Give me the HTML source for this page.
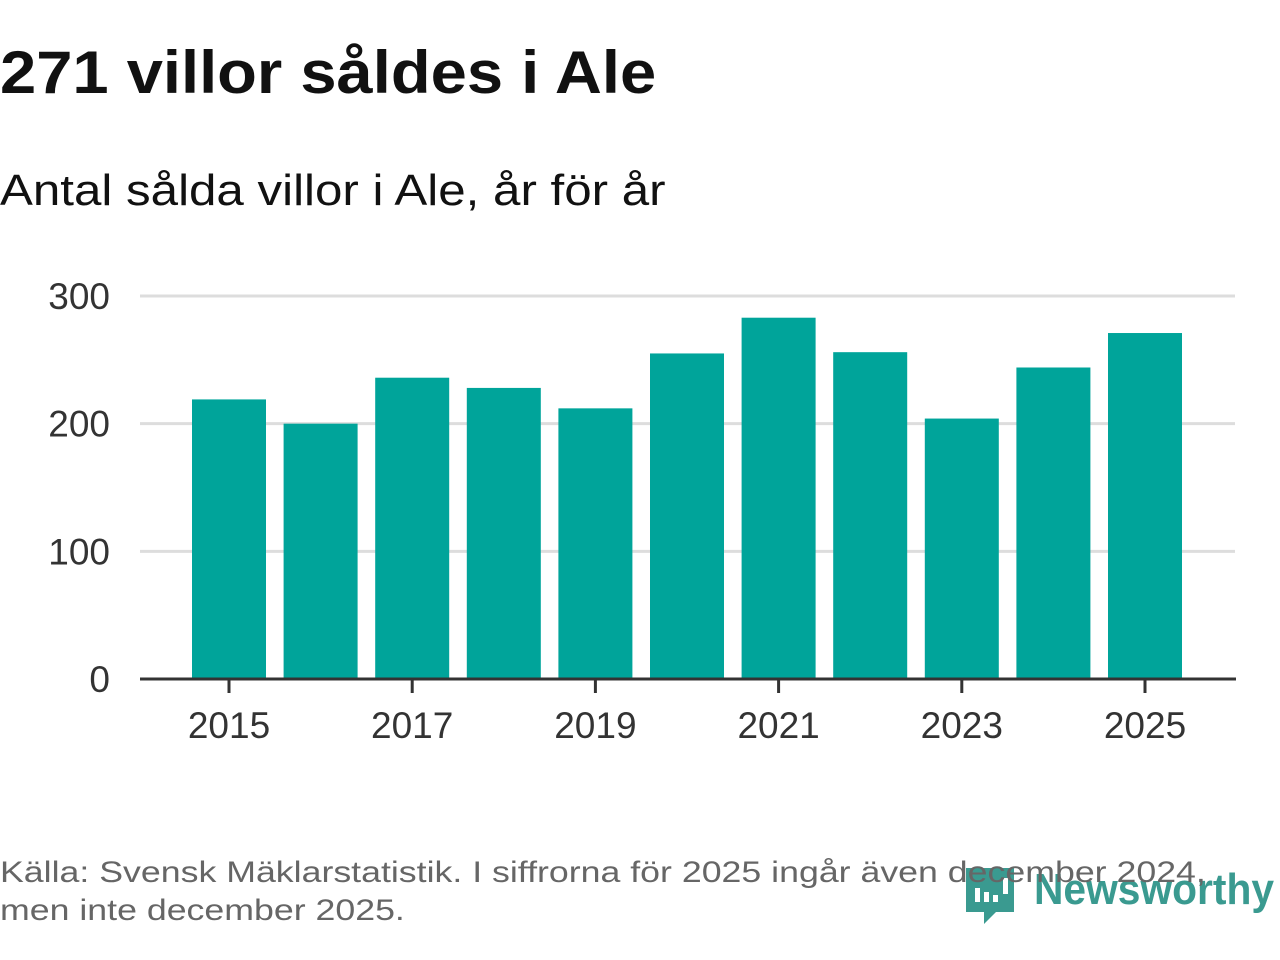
<!DOCTYPE html>
<html><head><meta charset="utf-8"><style>
body{margin:0;width:1280px;height:960px;background:#fff;font-family:"Liberation Sans","DejaVu Sans",sans-serif;overflow:hidden;position:relative}
#title{position:absolute;left:0;top:38px;font-size:60px;font-weight:bold;color:#111;margin:0;transform-origin:0 0;transform:scaleX(1.085);white-space:nowrap}
#sub{position:absolute;left:0;top:166px;font-size:44px;color:#111;transform-origin:0 0;transform:scaleX(1.12);white-space:nowrap}
#src{position:absolute;left:0;top:854px;font-size:30px;color:#666;line-height:38px;z-index:2;transform-origin:0 0;transform:scaleX(1.19);white-space:nowrap}
svg{position:absolute;left:0;top:0}
</style></head><body>
<h1 id="title">271 villor såldes i Ale</h1>
<div id="sub">Antal sålda villor i Ale, år för år</div>
<svg id="chart" width="1280" height="960"></svg>
<div id="src">Källa: Svensk Mäklarstatistik. I siffrorna för 2025 ingår även december 2024,<br>men inte december 2025.</div>
<script>
const years=[2015,2016,2017,2018,2019,2020,2021,2022,2023,2024,2025];
const values=[219,200,236,228,212,255,283,256,204,244,271];
const yTicks=[0,100,200,300];
const xLabels=[2015,2017,2019,2021,2023,2025];
const svg=document.getElementById('chart');
const NS='http://www.w3.org/2000/svg';
const y0=679,y1=296,yMax=300;
const y=v=>y0-(v/yMax)*(y0-y1);
const x=yr=>229+(yr-2015)*91.6;
const bw=74;
function mk(t,a){const e=document.createElementNS(NS,t);for(const k in a)e.setAttribute(k,a[k]);svg.appendChild(e);return e;}
yTicks.forEach(t=>{
  if(t>0){const l=mk('line',{x1:140,x2:1235,y1:y(t),y2:y(t),stroke:'#ddd','stroke-width':3});
  
  }
  const tx=mk('text',{x:110,y:y(t)+13,'text-anchor':'end','font-size':37,fill:'#333','font-family':'Liberation Sans, sans-serif'});
  tx.textContent=t;
  
  
});
years.forEach((yr,i)=>{
  const r=mk('rect',{x:x(yr)-bw/2,y:y(values[i]),width:bw,height:y0-y(values[i]),fill:'#00a49a'});
  
  
});
const ax=mk('line',{x1:140,x2:1236,y1:y0,y2:y0,stroke:'#333','stroke-width':3});


xLabels.forEach(yr=>{
  const tk=mk('line',{x1:x(yr),x2:x(yr),y1:y0,y2:y0+14,stroke:'#333','stroke-width':3});
  
  
  const tx=mk('text',{x:x(yr),y:738,'text-anchor':'middle','font-size':37,fill:'#333','font-family':'Liberation Sans, sans-serif'});
  tx.textContent=yr;
  
  
});
const g=mk('g',{});


g.innerHTML='<path d="M966 868 h48 v44 h-18 l-12 12 v-12 h-18 z" fill="#3a9a90"/><rect x="975" y="888" width="5" height="14" fill="#fff"/><rect x="984" y="892" width="5" height="10" fill="#fff"/><rect x="993" y="895" width="5" height="7" fill="#fff"/><rect x="1003" y="878" width="5" height="16" fill="#fff"/><text x="1034" y="904" font-size="44" font-weight="bold" fill="#3a9a90" textLength="240" lengthAdjust="spacingAndGlyphs" font-family="Liberation Sans, sans-serif">Newsworthy</text>';
</script>
</body></html>
